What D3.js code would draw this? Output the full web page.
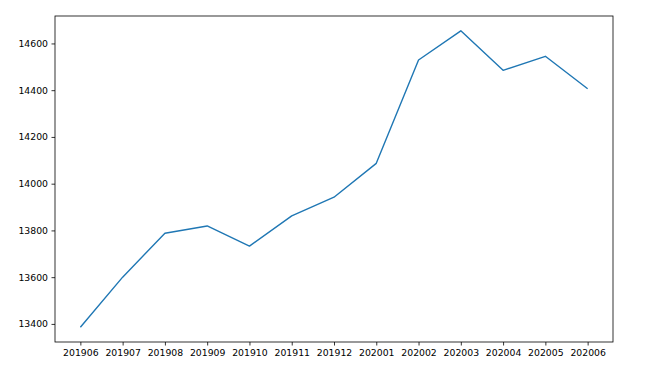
<!DOCTYPE html>
<html><head><meta charset="utf-8">
<script src="https://cdn.jsdelivr.net/npm/d3@7"></script>
<style>body{margin:0;background:#fff}svg{display:block}text{font-family:"DejaVu Sans",sans-serif}</style>
</head><body><svg id="c" width="665" height="370"></svg>
<script>
const categories = ["201906","201907","201908","201909","201910","201911","201912","202001","202002","202003","202004","202005","202006"];
const values = [13386, 13600, 13788, 13819, 13733, 13862, 13942, 14087, 14529, 14654, 14485, 14545, 14406];
const yTicks = [13400, 13600, 13800, 14000, 14200, 14400, 14600];

const svg = d3.select("#c");
const L = 55, R = 613, T = 16, B = 342;
const n = categories.length;
const x = d3.scaleLinear().domain([-0.6, n - 1 + 0.6]).range([L, R]);
const ymin = d3.min(values), ymax = d3.max(values), pad = (ymax - ymin) * 0.05;
const y = d3.scaleLinear().domain([ymin - pad, ymax + pad]).range([B, T]);

const fs = "9.3px";
const xAxis = d3.axisBottom(x).tickValues(d3.range(n)).tickFormat(i => categories[i]).tickSize(3.5).tickPadding(3.5);
const gx = svg.append("g").attr("transform", `translate(0,${B})`).call(xAxis);
const yAxis = d3.axisLeft(y).tickValues(yTicks).tickFormat(d3.format("d")).tickSize(3.5).tickPadding(3.5);
const gy = svg.append("g").attr("transform", `translate(${L},0)`).call(yAxis);
[gx, gy].forEach(g => {
  g.select(".domain").remove();
  g.selectAll("line").attr("stroke", "#000").attr("stroke-width", 0.8);
  g.selectAll("text").attr("fill", "#000").style("font-size", fs).style("font-family", '"DejaVu Sans",sans-serif');
});

svg.append("path")
  .datum(values)
  .attr("fill", "none")
  .attr("stroke", "#1f77b4")
  .attr("stroke-width", 1.4)
  .attr("stroke-linejoin", "round")
  .attr("d", d3.line().x((d, i) => x(i)).y(d => y(d)));

svg.append("rect").attr("x", L).attr("y", T).attr("width", R - L).attr("height", B - T)
  .attr("fill", "none").attr("stroke", "#000").attr("stroke-width", 0.8);
</script></body></html>
